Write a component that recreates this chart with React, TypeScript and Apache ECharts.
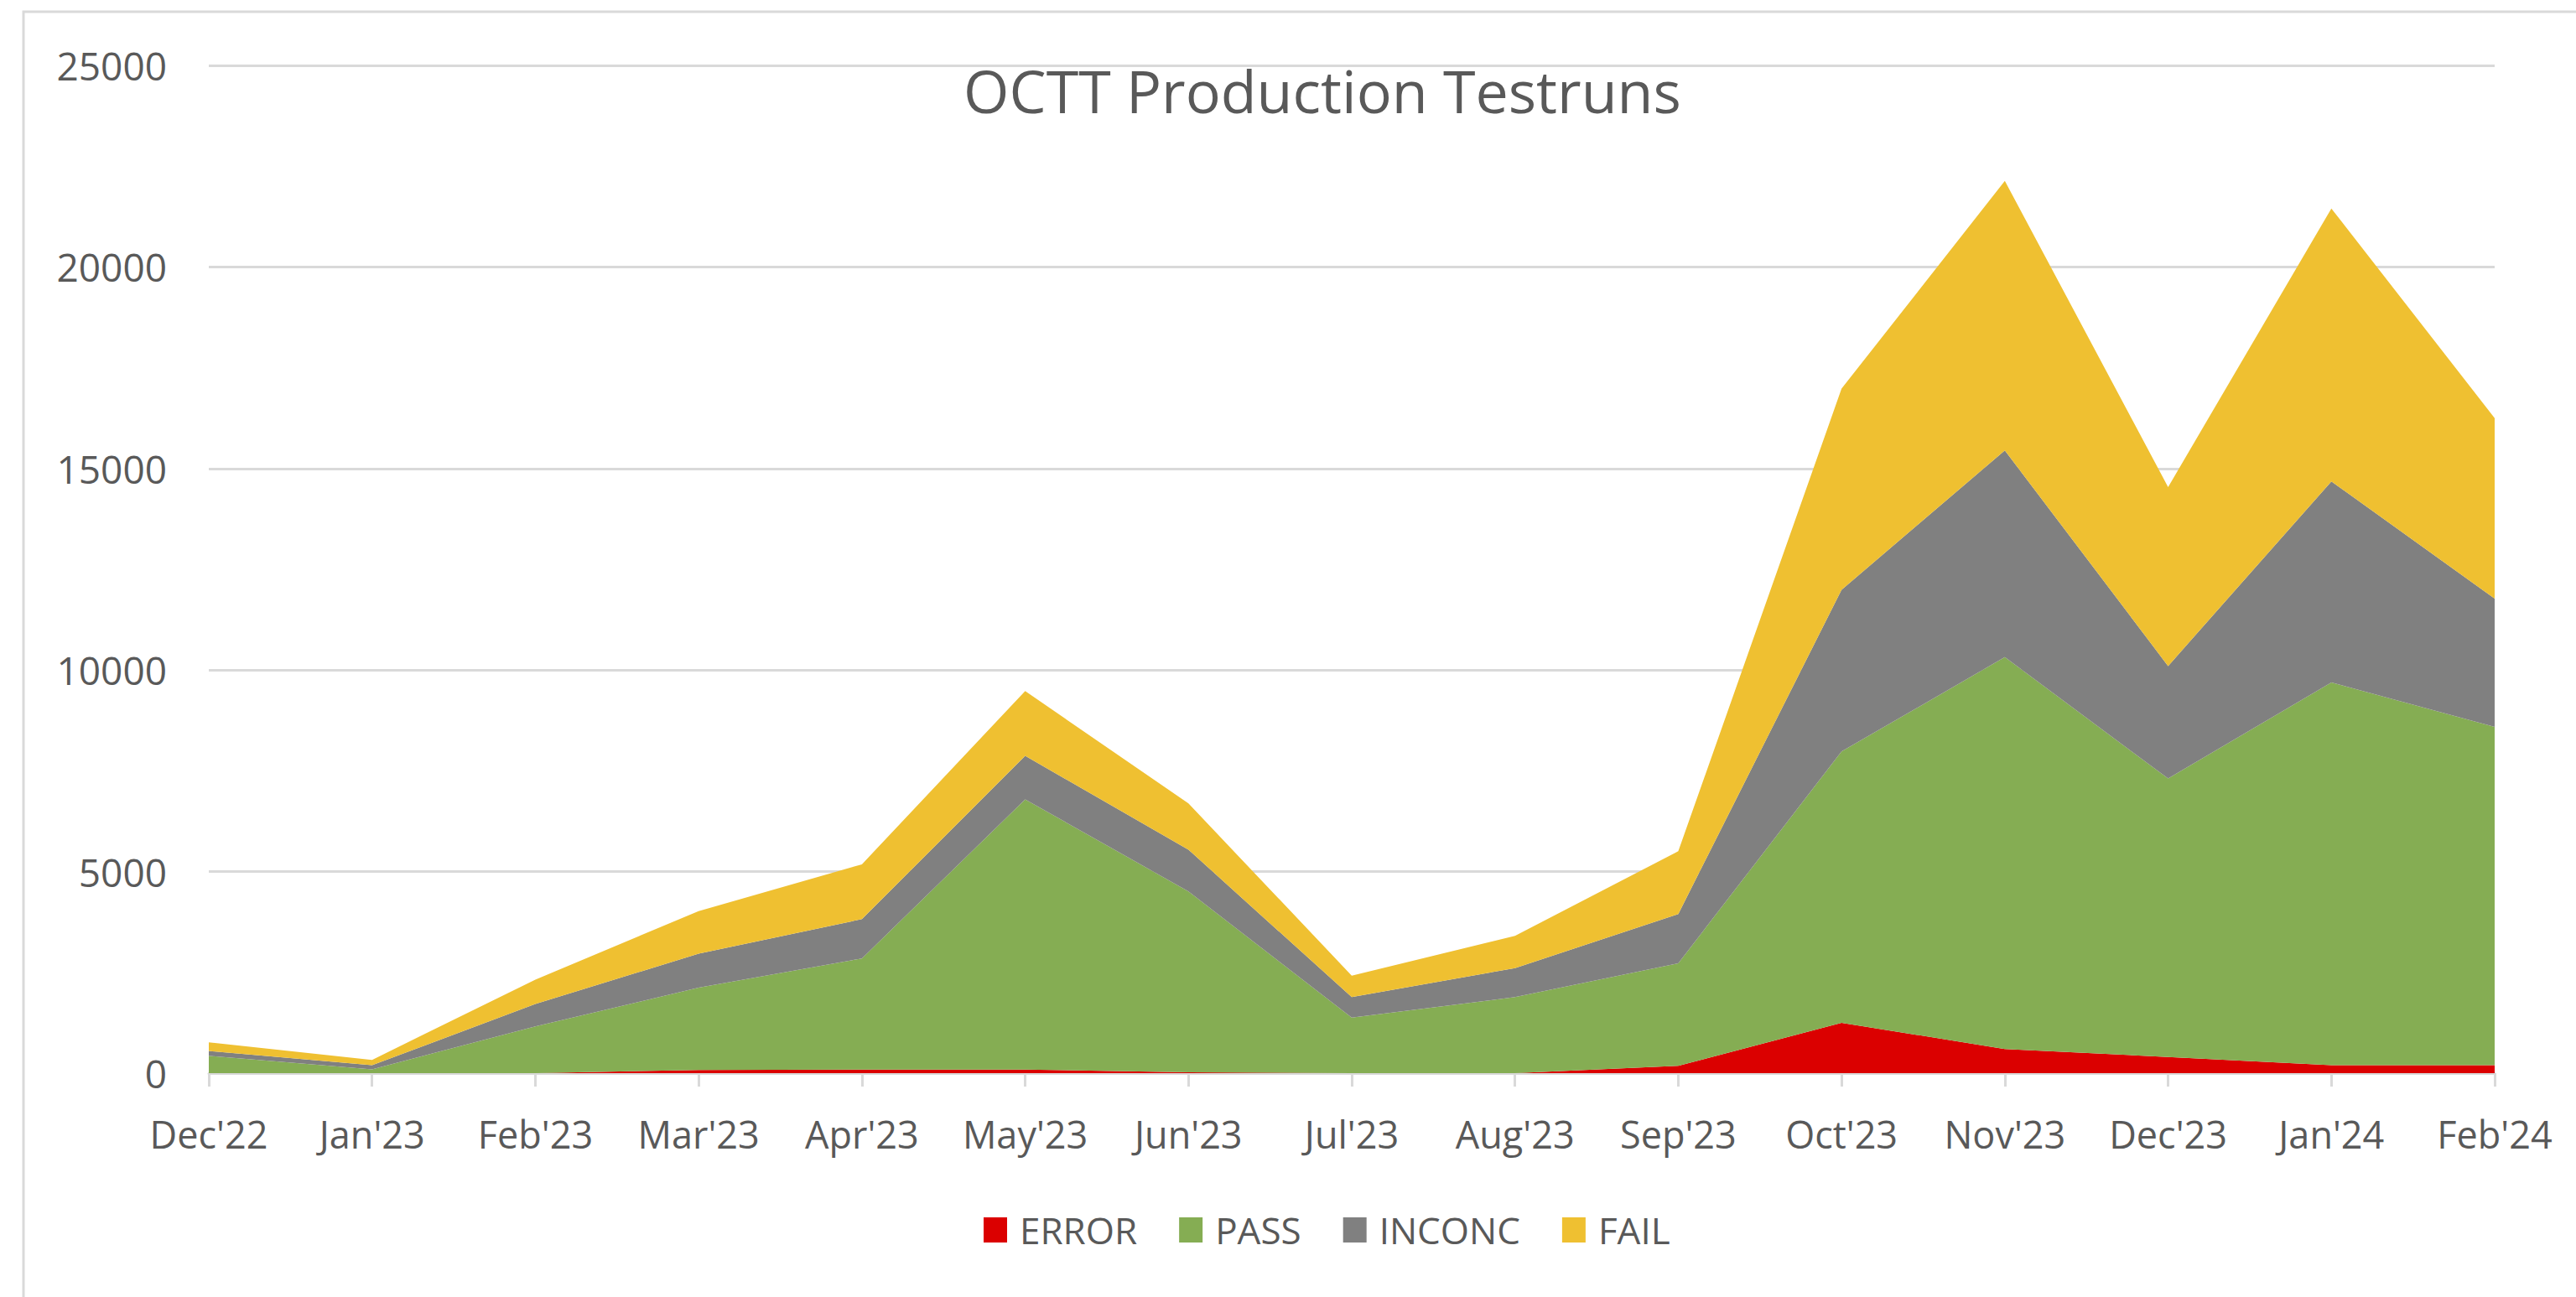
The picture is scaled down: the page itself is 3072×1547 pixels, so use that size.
import React, { useEffect, useRef } from "react";
import * as echarts from "echarts";

const categories = ["Dec'22", "Jan'23", "Feb'23", "Mar'23", "Apr'23", "May'23", "Jun'23", "Jul'23", "Aug'23", "Sep'23", "Oct'23", "Nov'23", "Dec'23", "Jan'24", "Feb'24"];
const errorValues = [0, 0, 0, 80, 90, 90, 20, 0, 0, 180, 1250, 600, 400, 200, 200];
const passValues = [430, 95, 1160, 2040, 2755, 6700, 4490, 1380, 1885, 2545, 6730, 9720, 6910, 9490, 8390];
const inconcValues = [120, 100, 555, 845, 975, 1080, 1035, 505, 720, 1220, 4010, 5130, 2790, 4990, 3180];
const failValues = [215, 135, 605, 1055, 1360, 1610, 1145, 535, 800, 1560, 4990, 6685, 4440, 6770, 4480];
const yTicks = [0, 5000, 10000, 15000, 20000, 25000];

const FONT = "'Open Sans', 'Noto Sans', sans-serif";
const TEXT = "#595959";

export default function App() {
  const ref = useRef<HTMLDivElement>(null);
  useEffect(() => {
    if (!ref.current) return;
    const chart = echarts.init(ref.current, null, { renderer: "svg" });
    const mk = (name: string, data: number[], color: string) => ({
      name,
      type: "line",
      stack: "total",
      data,
      symbol: "none",
      showSymbol: false,
      lineStyle: { width: 0, color },
      itemStyle: { color },
      areaStyle: { color, opacity: 1 },
    });
    chart.setOption({
      animation: false,
      backgroundColor: "#ffffff",
      textStyle: { fontFamily: FONT },
      title: {
        text: "OCTT Production Testruns",
        left: 1572,
        top: 68,
        textAlign: "center",
        textStyle: { fontFamily: FONT, fontSize: 70, fontWeight: "normal", color: TEXT },
      },
      graphic: [
        {
          type: "rect",
          shape: { x: 28, y: 14, width: 3200, height: 1700 },
          style: { fill: "none", stroke: "#d9d9d9", lineWidth: 3 },
          silent: true,
          z: -1,
        },
      ],
      legend: {
        left: 1168,
        top: 1440,
        icon: "rect",
        itemWidth: 28,
        itemHeight: 30,
        itemGap: 50,
        textStyle: { fontFamily: FONT, fontSize: 44, color: TEXT, padding: [0, 0, 0, 10] },
        data: ["ERROR", "PASS", "INCONC", "FAIL"],
      },
      grid: { left: 249, right: 97, top: 78, bottom: 267, containLabel: false },
      xAxis: {
        type: "category",
        data: categories,
        boundaryGap: false,
        axisLine: { lineStyle: { color: "#d9d9d9", width: 3 } },
        axisTick: { show: true, length: 16, lineStyle: { color: "#d9d9d9", width: 3 } },
        axisLabel: { fontFamily: FONT, fontSize: 45, color: TEXT, margin: 50 },
        splitLine: { show: false },
      },
      yAxis: {
        type: "value",
        min: yTicks[0],
        max: yTicks[yTicks.length - 1],
        interval: 5000,
        axisLine: { show: false },
        axisTick: { show: false },
        axisLabel: {
          fontFamily: FONT,
          fontSize: 46,
          color: TEXT,
          margin: 50,
          formatter: (v: number) => String(v),
        },
        splitLine: { lineStyle: { color: "#d9d9d9", width: 3 } },
      },
      series: [
        mk("ERROR", errorValues, "#DB0000"),
        mk("PASS", passValues, "#85AD53"),
        mk("INCONC", inconcValues, "#808080"),
        mk("FAIL", failValues, "#EFC031"),
      ],
    });
    return () => chart.dispose();
  }, []);
  return (
    <div
      ref={ref}
      style={{ position: "fixed", left: 0, top: 0, width: 3072, height: 1547, background: "#fff" }}
    />
  );
}
